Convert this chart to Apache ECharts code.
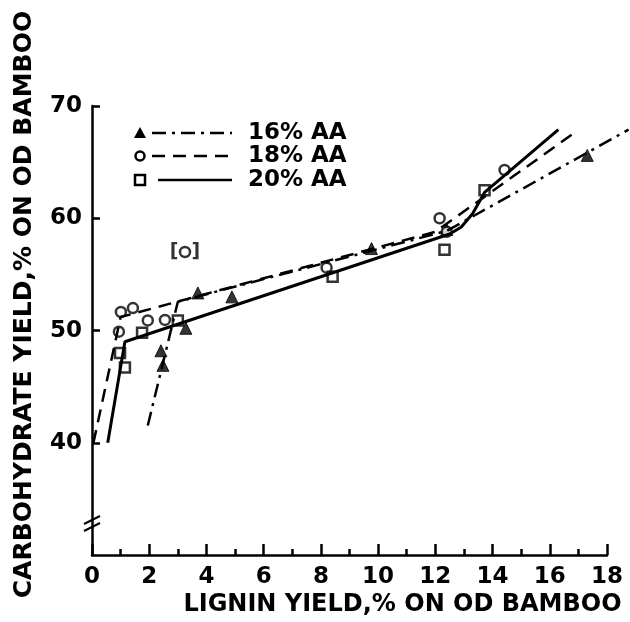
<!DOCTYPE html>
<html>
<head>
<meta charset="utf-8">
<script src="https://cdn.jsdelivr.net/npm/echarts@6/dist/echarts.min.js"></script>
<style>
html, body { margin: 0; padding: 0; background: #fff; }
#main { width: 630px; height: 622px; }
</style>
</head>
<body>
<div id="main"></div>
<script>
// measured points (lignin %, carbohydrate %)
var aa16 = [[2.41, 48.2], [2.48, 46.9], [3.28, 50.2], [3.7, 53.35], [4.89, 53.0], [9.77, 57.3], [12.4, 59.0], [17.31, 65.6]];
var aa18 = [[0.94, 49.9], [1.01, 51.65], [1.43, 52.0], [1.95, 50.9], [2.55, 50.95], [8.2, 55.6], [12.15, 60.0], [12.4, 58.8], [14.42, 64.3]];
var aa20 = [[0.98, 48.0], [1.15, 46.7], [1.75, 49.8], [3.0, 50.9], [8.41, 54.8], [12.32, 57.2], [13.72, 62.5]];
var aa18Bracket = [[3.25, 57.0]];

// fitted curves (vertices)
var fit16 = [[1.95, 41.6], [3.0, 52.6], [12.4, 58.9], [18.75, 67.9]];
var fit18 = [[0.05, 40.0], [1.0, 51.2], [12.0, 58.8], [16.8, 67.5]];
var fit20 = [[0.55, 40.0], [1.15, 49.0], [12.5, 58.6], [12.9, 59.2], [13.3, 60.4], [13.72, 62.3], [16.3, 67.9]];

var legendNames = ['16% AA', '18% AA', '20% AA'];
var xTicks = [0, 2, 4, 6, 8, 10, 12, 14, 16, 18];
var yTicks = [40, 50, 60, 70];

var FONT = 'DejaVu Sans';
var dash16 = [14, 6, 3, 6];
var dash18 = [13, 8];

var chart = echarts.init(document.getElementById('main'), null, { renderer: 'canvas' });

function legendGraphic() {
	var items = [];
	var rows = [133, 156, 180];
	var dashes = [dash16, dash18, null];
	for (var i = 0; i < 3; i++) {
		var y = rows[i];
		var sym;
		if (i === 0) {
			sym = { type: 'polygon', shape: { points: [[140, y - 6], [134, y + 5], [146, y + 5]] }, style: { fill: '#000' } };
		} else if (i === 1) {
			sym = { type: 'circle', shape: { cx: 140, cy: y, r: 4.5 }, style: { fill: '#fff', stroke: '#000', lineWidth: 2.5 } };
		} else {
			sym = { type: 'rect', shape: { x: 135, y: y - 5, width: 10, height: 10 }, style: { fill: '#fff', stroke: '#000', lineWidth: 2.5 } };
		}
		items.push(sym);
		items.push({
			type: 'line',
			shape: { x1: i === 2 ? 158 : 152, y1: y, x2: 232, y2: y },
			style: { stroke: '#000', lineWidth: 2.5, lineDash: dashes[i] }
		});
		items.push({
			type: 'text', x: 248, y: y,
			style: { text: legendNames[i], fill: '#000', font: 'bold 23px "' + FONT + '"', textVerticalAlign: 'middle' }
		});
	}
	// axis break marks
	items.push({ type: 'line', shape: { x1: 84, y1: 524, x2: 100, y2: 516 }, style: { stroke: '#000', lineWidth: 2 } });
	items.push({ type: 'line', shape: { x1: 84, y1: 531, x2: 100, y2: 523 }, style: { stroke: '#000', lineWidth: 2 } });
	return items;
}

var option = {
	backgroundColor: '#fff',
	animation: false,
	grid: [
		{ left: 92, right: 23, top: 106, bottom: 66 },
		// same frame, a little wider so the 16% curve can run past 18
		{ left: 92, right: 0, top: 106, bottom: 66 }
	],
	xAxis: [{
		type: 'value',
		gridIndex: 0,
		min: 0, max: 18, interval: 2,
		name: 'LIGNIN YIELD,% ON OD BAMBOO',
		nameLocation: 'middle',
		nameGap: 36,
		nameTextStyle: { color: '#000', fontFamily: FONT, fontWeight: 'bold', fontSize: 24, padding: [0, 0, 0, 106] },
		axisLine: { lineStyle: { color: '#000', width: 2.5 } },
		axisTick: { inside: true, length: 11, lineStyle: { color: '#000', width: 2.5 } },
		minorTick: { show: true, splitNumber: 2, length: 6, lineStyle: { color: '#000', width: 2.5 } },
		axisLabel: {
			color: '#000', fontFamily: FONT, fontWeight: 'bold', fontSize: 23, margin: 10,
			customValues: xTicks
		},
		splitLine: { show: false }
	}, {
		type: 'value',
		gridIndex: 1,
		min: 0, max: 18.8,
		show: false
	}],
	yAxis: [{
		type: 'value',
		gridIndex: 0,
		min: 30, max: 70, interval: 10,
		name: 'CARBOHYDRATE YIELD,% ON OD BAMBOO',
		nameLocation: 'middle',
		nameGap: 55,
		nameTextStyle: { color: '#000', fontFamily: FONT, fontWeight: 'bold', fontSize: 25, padding: [0, 0, 0, 52] },
		axisLine: { lineStyle: { color: '#000', width: 2.5 } },
		axisTick: { inside: true, length: 8, lineStyle: { color: '#000', width: 2.5 }, customValues: yTicks },
		axisLabel: {
			color: '#000', fontFamily: FONT, fontWeight: 'bold', fontSize: 23, margin: 10,
			customValues: yTicks
		},
		splitLine: { show: false }
	}, {
		type: 'value',
		gridIndex: 1,
		min: 30, max: 70,
		show: false
	}],
	graphic: legendGraphic(),
	series: [
		{
			name: 'fit16', type: 'line', data: fit16, xAxisIndex: 1, yAxisIndex: 1,
			showSymbol: false, silent: true,
			lineStyle: { color: '#000', width: 2.5, type: dash16 }
		},
		{
			name: 'fit18', type: 'line', data: fit18, showSymbol: false, silent: true,
			lineStyle: { color: '#000', width: 2.5, type: dash18 }
		},
		{
			name: 'fit20', type: 'line', data: fit20, showSymbol: false, silent: true,
			lineStyle: { color: '#000', width: 3, type: 'solid' }
		},
		{
			name: '16% AA', type: 'scatter', data: aa16, symbol: 'triangle', symbolSize: 12,
			itemStyle: { color: '#000', borderColor: '#000', borderWidth: 1 }
		},
		{
			name: '18% AA', type: 'scatter', data: aa18, symbol: 'circle', symbolSize: 10,
			itemStyle: { color: '#fff', borderColor: '#000', borderWidth: 2.5 }
		},
		{
			name: '20% AA', type: 'scatter', data: aa20, symbol: 'rect', symbolSize: 10,
			itemStyle: { color: '#fff', borderColor: '#000', borderWidth: 2.5 }
		},
		{
			name: '18% AA bracket', type: 'scatter', data: aa18Bracket, symbol: 'circle', symbolSize: 10,
			itemStyle: { color: '#fff', borderColor: '#000', borderWidth: 2.5 },
			label: {
				show: true, position: 'inside', formatter: '[  ]',
				color: '#000', fontFamily: FONT, fontWeight: 'bold', fontSize: 19
			}
		}
	]
};

chart.setOption(option);
</script>
</body>
</html>
